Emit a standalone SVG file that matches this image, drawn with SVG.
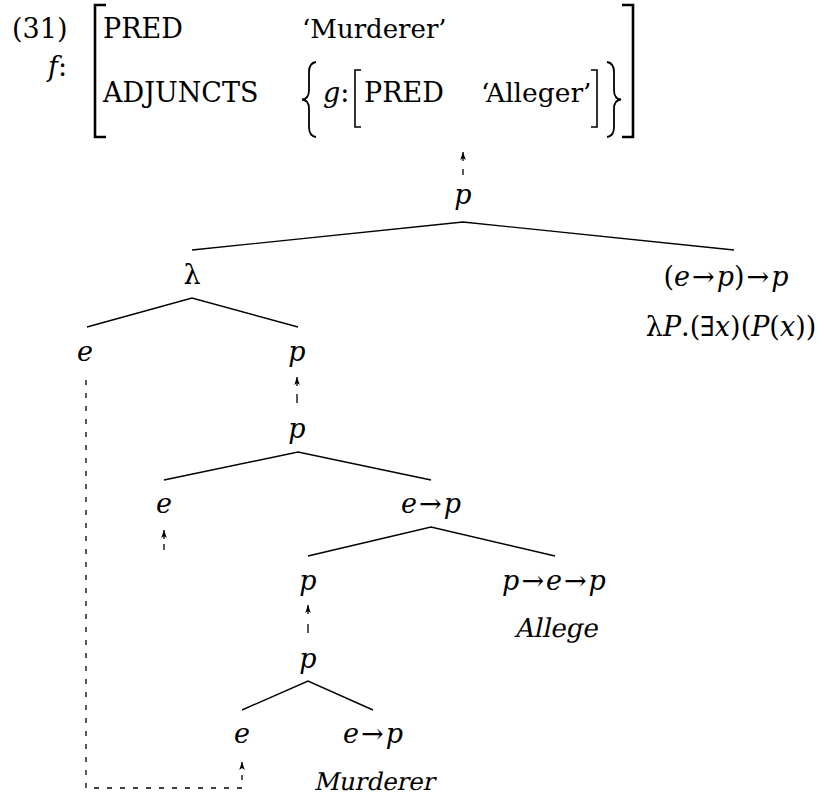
<svg xmlns="http://www.w3.org/2000/svg" width="824" height="796" viewBox="0 0 824 796">
  <style>
    text { font-family: 'DejaVu Serif', 'Liberation Serif', serif; fill: #000; }
    .i { font-style: italic; }
    .edge { stroke: #000; stroke-width: 1.4; fill: none; }
    .brk { stroke: #000; stroke-width: 2.6; fill: none; }
    .sbrk { stroke: #000; stroke-width: 1.6; fill: none; }
    .brace { stroke: #000; stroke-width: 1.8; fill: none; }
    .dash { stroke: #000; stroke-width: 1.3; fill: none; }
    .link { stroke: #000; stroke-width: 1.3; fill: none; stroke-dasharray: 5 8; }
  </style>
  <defs>
    <marker id="head" markerUnits="userSpaceOnUse" viewBox="-9 -4 10 8" markerWidth="10" markerHeight="8" refX="0" refY="0" orient="auto">
      <path d="M0,0 L-8,-2.8 L-6,0 L-8,2.8 Z" fill="#000"/>
    </marker>
  </defs>

  <!-- feature structure -->
  <g id="avm" font-size="27">
    <text x="12" y="38">(31)</text>
    <text x="48" y="76"><tspan class="i">f</tspan>:</text>
    <path class="brk" d="M106 5 H95 V137 H106"/>
    <path class="brk" d="M622 5 H633 V137 H622"/>
    <text x="103" y="38">PRED</text>
    <text x="302" y="38" font-size="26">‘Murderer’</text>
    <text x="103" y="102">ADJUNCTS</text>
    <path class="brace" d="M316 62 Q309 63 309 72 V90 Q309 99 302 99.5 Q309 100 309 109 V127 Q309 136 316 137"/>
    <path class="brace" d="M607 62 Q614 63 614 72 V90 Q614 99 621 99.5 Q614 100 614 109 V127 Q614 136 607 137"/>
    <text x="323" y="102"><tspan class="i">g</tspan>:</text>
    <path class="sbrk" d="M361 70 H355 V127 H361"/>
    <path class="sbrk" d="M591 70 H597 V127 H591"/>
    <text x="364" y="102">PRED</text>
    <text x="481" y="102" font-size="26.5">‘Alleger’</text>
  </g>

  <!-- tree nodes -->
  <g font-size="27" text-anchor="middle">
    <g id="n-root"><text class="i" x="463" y="204">p</text></g>
    <g id="n-lambda"><text x="192" y="284">λ</text></g>
    <g id="n-quant">
      <text x="726" y="286">(<tspan class="i">e</tspan><tspan dx="2">→</tspan><tspan class="i" dx="2">p</tspan>)<tspan dx="2">→</tspan><tspan class="i" dx="2">p</tspan></text>
      <text x="731" y="336">λ<tspan class="i">P</tspan>.(∃<tspan class="i">x</tspan>)(<tspan class="i">P</tspan>(<tspan class="i">x</tspan>))</text>
    </g>
    <g id="n-e1"><text class="i" x="85" y="361">e</text></g>
    <g id="n-p1"><text class="i" x="297" y="361">p</text></g>
    <g id="n-p2"><text class="i" x="297" y="438">p</text></g>
    <g id="n-e2"><text class="i" x="164" y="513">e</text></g>
    <g id="n-ep1"><text x="431" y="513"><tspan class="i">e</tspan><tspan dx="2">→</tspan><tspan class="i" dx="2">p</tspan></text></g>
    <g id="n-p3"><text class="i" x="308" y="590">p</text></g>
    <g id="n-allege">
      <text x="554" y="590"><tspan class="i">p</tspan><tspan dx="2">→</tspan><tspan class="i" dx="2">e</tspan><tspan dx="2">→</tspan><tspan class="i" dx="2">p</tspan></text>
      <text x="0" y="0" font-size="26" transform="translate(556 637) skewX(-12)">Allege</text>
    </g>
    <g id="n-p4"><text class="i" x="308" y="668">p</text></g>
    <g id="n-e3"><text class="i" x="242" y="743">e</text></g>
    <g id="n-murderer">
      <text x="373" y="743"><tspan class="i">e</tspan><tspan dx="2">→</tspan><tspan class="i" dx="2">p</tspan></text>
      <text x="0" y="0" font-size="24.5" transform="translate(374 790) skewX(-12)">Murderer</text>
    </g>
  </g>

  <!-- connectors -->
  <g id="connectors">
    <path class="edge" d="M192 250 L463 222 L734 250"/>
    <path class="edge" d="M87 327 L192 298 L298 327"/>
    <path class="edge" d="M164 480 L298 452 L431 480"/>
    <path class="edge" d="M308 556 L431 527 L555 556"/>
    <path class="edge" d="M242 710 L308 681 L373 710"/>

    <line class="dash" x1="463" y1="175" x2="463" y2="169"/>
    <path class="dash" d="M463 161 V152" marker-end="url(#head)"/>
    <line class="dash" x1="297" y1="403" x2="297" y2="394"/>
    <path class="dash" d="M297 386 V377" marker-end="url(#head)"/>
    <line class="dash" x1="164" y1="550" x2="164" y2="544"/>
    <path class="dash" d="M164 539 V530" marker-end="url(#head)"/>
    <line class="dash" x1="308" y1="633" x2="308" y2="624"/>
    <path class="dash" d="M308 614 V605" marker-end="url(#head)"/>

    <path class="link" d="M86 380 V788 H242 V762" marker-end="url(#head)"/>
  </g>
</svg>
